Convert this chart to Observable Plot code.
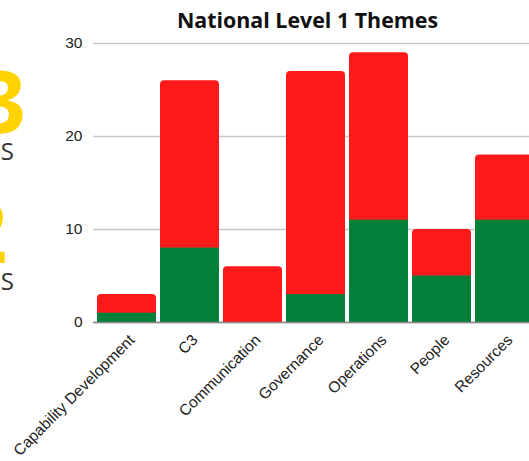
<!DOCTYPE html>
<html>
<head>
<meta charset="utf-8">
<script src="https://cdn.jsdelivr.net/npm/d3@7"></script>
<script src="https://cdn.jsdelivr.net/npm/@observablehq/plot@0.6"></script>
<style>
  html, body { margin: 0; padding: 0; background: #fff; overflow: hidden; }
  #wrap { position: relative; width: 529px; height: 461px; overflow: hidden; }
  #chart { position: absolute; left: 0; top: 0; width: 538px; }
  #chart svg { max-width: none !important; }
  #overlay { position: absolute; left: 0; top: 0; pointer-events: none; }
</style>
</head>
<body>
<div id="wrap">
  <div id="chart"></div>
  <svg id="overlay" width="529" height="461">
    <text x="307.5" y="28" text-anchor="middle" font-family="Open Sans" font-weight="700" font-size="21.4" fill="#111">National Level 1 Themes</text>
    <text x="26" y="133" text-anchor="end" font-family="Open Sans" font-weight="700" font-size="86" fill="#FFD200">3</text>
    <text x="14" y="160" text-anchor="end" font-family="Open Sans" font-size="24" fill="#333">S</text>
    <text x="7.5" y="263" text-anchor="end" font-family="Open Sans" font-weight="700" font-size="86" fill="#FFD200">2</text>
    <text x="14" y="290" text-anchor="end" font-family="Open Sans" font-size="24" fill="#333">S</text>
  </svg>
</div>
<script>
const categories = ["Capability Development", "C3", "Communication", "Governance", "Operations", "People", "Resources"];
const greenValues = [1, 8, 0, 3, 11, 5, 11];
const redValues = [2, 18, 6, 24, 18, 5, 7];
const yTicks = [0, 10, 20, 30];

const RED = "#fe1a1a";
const GREEN = "#02803a";

const rows = categories.map((c, i) => ({
  cat: c,
  green: greenValues[i],
  red: redValues[i],
  total: greenValues[i] + redValues[i]
}));

const chart = Plot.plot({
  width: 538,
  height: 461,
  marginTop: 43,
  marginBottom: 139,
  marginLeft: 93,
  marginRight: 0,
  style: { fontFamily: "'Liberation Sans', Arial, sans-serif", fontSize: "15px", color: "#222", background: "transparent", maxWidth: "none" },
  x: { domain: categories, paddingInner: 0.068, paddingOuter: 0.03, label: null },
  y: { domain: [0, 30], label: null },
  marks: [
    Plot.gridY(yTicks, { stroke: "#c8c8c8", strokeOpacity: 1, strokeWidth: 1.5 }),
    Plot.axisY(yTicks, { tickSize: 0, tickPadding: 11, fontSize: 15.5, label: null }),
    Plot.axisX({ tickRotate: -45, tickSize: 0, tickPadding: 15, dx: 5, fontSize: 15.5, label: null }),
    Plot.barY(rows, { x: "cat", y1: 0, y2: "total", fill: RED, rx: 4 }),
    Plot.barY(rows, { x: "cat", y1: 0, y2: d => d.total / 2, fill: RED }),
    Plot.barY(rows, { x: "cat", y1: 0, y2: "green", fill: GREEN }),
    Plot.ruleY([0], { stroke: "#888", strokeWidth: 1.5 })
  ]
});
document.getElementById("chart").appendChild(chart);
</script>
</body>
</html>
